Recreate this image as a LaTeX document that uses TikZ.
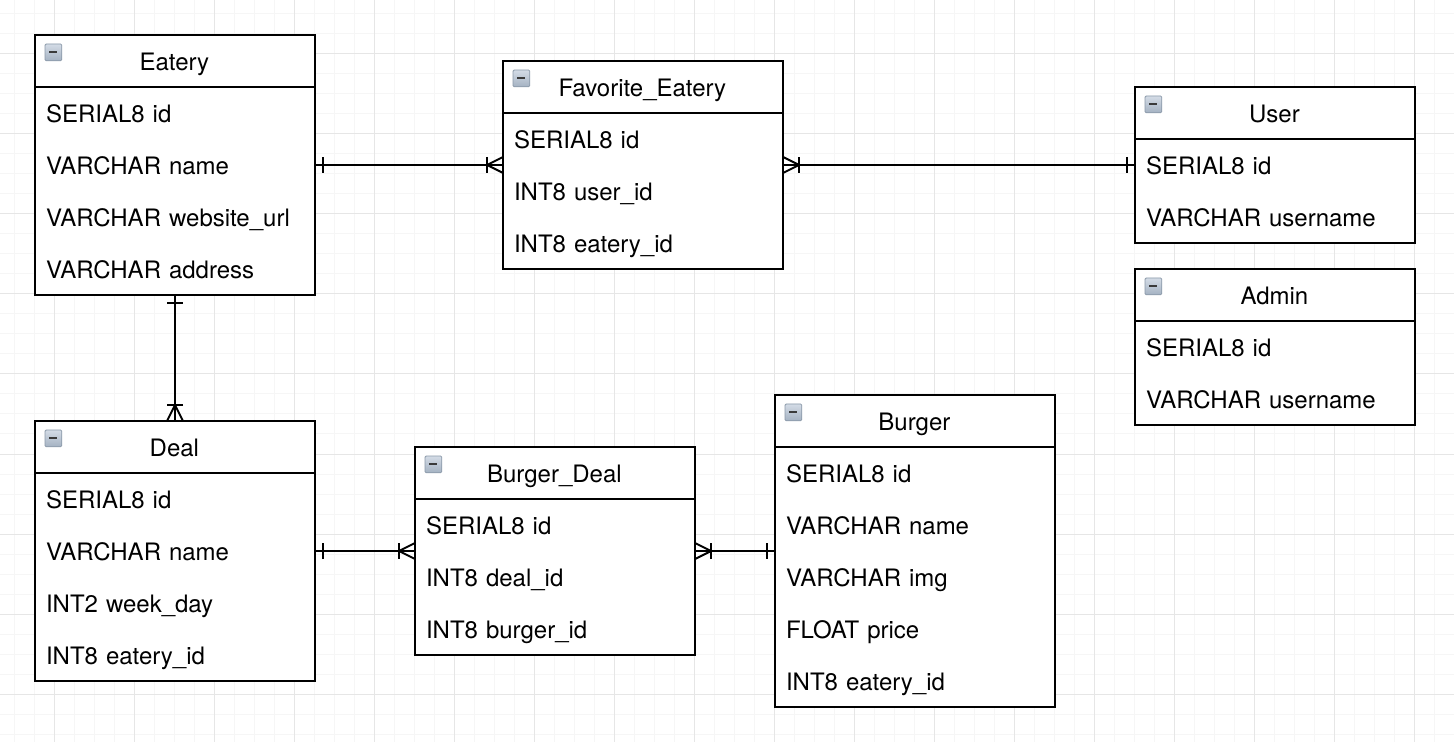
\documentclass[tikz,border=0pt]{standalone}
\usepackage{fontspec}
\setmainfont{TeX Gyre Heros}
\definecolor{gridmajor}{HTML}{E6E6E6}
\definecolor{gridminor}{HTML}{F6F6F6}
\definecolor{icontop}{HTML}{D4DCE6}
\definecolor{iconbot}{HTML}{A4B2C2}
\definecolor{iconedge}{HTML}{8A98A8}
\definecolor{iconbar}{HTML}{3A3A3A}
\tikzset{
  every node/.style={font=\fontsize{12}{14}\selectfont,outer sep=0pt},
  entbox/.style={draw=black,line width=1pt,fill=white,anchor=north west,minimum width=140pt,inner sep=0pt},
  headbox/.style={draw=black,line width=1pt,anchor=north west,inner xsep=5.5pt,inner ysep=0pt,text width=129pt,align=center,text height=17.8pt,text depth=8.2pt},
  rowbox/.style={anchor=north west,inner xsep=5.5pt,inner ysep=0pt,text width=129pt,align=left,text height=17.8pt,text depth=8.2pt},
  iconbox/.style={draw=iconedge,line width=.4pt,rounded corners=.6pt,top color=icontop,bottom color=iconbot,minimum size=8.4pt,inner sep=0pt,anchor=north west},
  link/.style={draw=black,line width=1pt},
  crowfoot/.pic={\draw[line width=1pt] (0,-8) -- (-16,0) -- (0,8); \draw[line width=1pt] (-16,-8) -- (-16,8);},
  onebar/.pic={\draw[line width=1pt] (-8,-8) -- (-8,8);}
}
% \ent{id}{x}{y}{title}{number of rows}
\newcommand{\ent}[5]{%
  \pgfmathsetmacro{\entH}{26*(#5+1)}%
  \node[entbox,minimum height=\entH pt] (#1) at (#2,#3) {};
  \node[headbox] (#1head) at (#2,#3) {\hspace*{-.6pt}#4};
  \node[iconbox] (#1icon) at (#2+10,#3+9) {};
  \draw[iconbar,line width=1pt] (#1icon.west) ++(2.2pt,0) -- ++(4pt,0);
}
% \rowtxt{id}{name}{x}{y}{row index}{text}
\newcommand{\rowtxt}[6]{%
  \node[rowbox] (#2) at (#3,#4+52*#5) {#6};
}
\begin{document}
\begin{tikzpicture}[x=.5pt,y=-.5pt]
\useasboundingbox (0,0) rectangle (1454,742);
\fill[white] (0,0) rectangle (1454,742);
\foreach \g in {14,34,...,1454} \draw[gridminor,line width=.5pt] (\g,0) -- (\g,742);
\foreach \g in {14,34,...,742} \draw[gridminor,line width=.5pt] (0,\g) -- (1454,\g);
\foreach \g in {54,134,...,1454} \draw[gridmajor,line width=.5pt] (\g,0) -- (\g,742);
\foreach \g in {54,134,...,742} \draw[gridmajor,line width=.5pt] (0,\g) -- (1454,\g);

\ent{eatery}{35}{35}{Eatery}{4}
\rowtxt{eatery}{eateryid}{35}{35}{1}{SERIAL8 id}
\rowtxt{eatery}{eateryname}{35}{35}{2}{VARCHAR name}
\rowtxt{eatery}{eateryurl}{35}{35}{3}{VARCHAR website\_url}
\rowtxt{eatery}{eateryaddr}{35}{35}{4}{VARCHAR address}

\ent{fav}{503}{61}{Favorite\_Eatery}{3}
\rowtxt{fav}{favid}{503}{61}{1}{SERIAL8 id}
\rowtxt{fav}{favuser}{503}{61}{2}{INT8 user\_id}
\rowtxt{fav}{faveatery}{503}{61}{3}{INT8 eatery\_id}

\ent{user}{1135}{87}{User}{2}
\rowtxt{user}{userid}{1135}{87}{1}{SERIAL8 id}
\rowtxt{user}{username}{1135}{87}{2}{VARCHAR username}

\ent{admin}{1135}{269}{Admin}{2}
\rowtxt{admin}{adminid}{1135}{269}{1}{SERIAL8 id}
\rowtxt{admin}{adminname}{1135}{269}{2}{VARCHAR username}

\ent{deal}{35}{421}{Deal}{4}
\rowtxt{deal}{dealid}{35}{421}{1}{SERIAL8 id}
\rowtxt{deal}{dealname}{35}{421}{2}{VARCHAR name}
\rowtxt{deal}{dealday}{35}{421}{3}{INT2 week\_day}
\rowtxt{deal}{dealeatery}{35}{421}{4}{INT8 eatery\_id}

\ent{bd}{415}{447}{Burger\_Deal}{3}
\rowtxt{bd}{bdid}{415}{447}{1}{SERIAL8 id}
\rowtxt{bd}{bddeal}{415}{447}{2}{INT8 deal\_id}
\rowtxt{bd}{bdburger}{415}{447}{3}{INT8 burger\_id}

\ent{burger}{775}{395}{Burger}{5}
\rowtxt{burger}{burgerid}{775}{395}{1}{SERIAL8 id}
\rowtxt{burger}{burgername}{775}{395}{2}{VARCHAR name}
\rowtxt{burger}{burgerimg}{775}{395}{3}{VARCHAR img}
\rowtxt{burger}{burgerprice}{775}{395}{4}{FLOAT price}
\rowtxt{burger}{burgereatery}{775}{395}{5}{INT8 eatery\_id}

% connectors
\draw[link] (eateryname.east) -- (favid.south west);
\path (eateryname.east) pic[rotate=180] {onebar};
\path (favid.south west) pic {crowfoot};

\draw[link] (favid.south east) -- (userid.west);
\path (favid.south east) pic[rotate=180] {crowfoot};
\path (userid.west) pic {onebar};

\draw[link] (eatery.south) -- (deal.north);
\path (eatery.south) pic[rotate=90] {onebar};
\path (deal.north) pic[rotate=-90] {crowfoot};

\draw[link] (dealname.east) -- (bdid.south west);
\path (dealname.east) pic[rotate=180] {onebar};
\path (bdid.south west) pic {crowfoot};

\draw[link] (bdid.south east) -- (burgername.south west);
\path (bdid.south east) pic[rotate=180] {crowfoot};
\path (burgername.south west) pic {onebar};
\end{tikzpicture}
\end{document}
